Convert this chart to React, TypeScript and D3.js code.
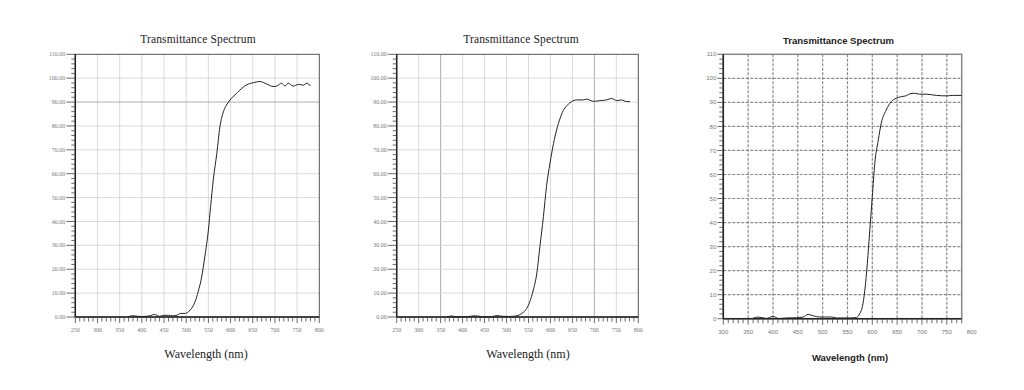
import React, { useRef, useEffect } from "react";
import * as d3 from "d3";

// panel 1 (left)
const waveA = [370, 380, 390, 400, 410, 420, 428, 435, 440, 450, 460, 470, 480, 487, 497, 505, 512, 520, 527, 535, 542, 550, 555, 561, 569, 576, 584, 591, 599, 610, 621, 636, 651, 666, 681, 696, 704, 715, 723, 730, 741, 753, 764, 772, 780];
const transA = [0.2, 0.5, 0.3, 0.2, 0.3, 0.6, 1.1, 0.6, 0.3, 0.7, 0.7, 0.5, 0.8, 1.5, 1.5, 2.2, 3.6, 6.4, 10.6, 16.9, 25.3, 36.4, 46.2, 57.4, 68.5, 79.7, 86.0, 88.8, 90.9, 93.0, 95.0, 97.2, 98.1, 98.6, 97.6, 96.5, 96.7, 97.9, 96.7, 97.9, 96.7, 97.4, 97.1, 97.9, 96.7];

// panel 2 (middle)
const waveB = [365, 375, 385, 400, 415, 425, 435, 445, 465, 478, 490, 505, 515, 523, 535, 546, 553, 561, 569, 576, 584, 591, 599, 607, 614, 622, 629, 637, 648, 660, 675, 682, 698, 713, 728, 739, 751, 762, 773, 781];
const transB = [0.1, 0.4, 0.1, 0.1, 0.2, 0.5, 0.4, 0.1, 0.1, 0.6, 0.3, 0.2, 0.3, 0.5, 1.5, 3.6, 6.4, 11.3, 18.3, 29.5, 42.0, 54.6, 64.4, 72.7, 78.3, 83.2, 86.4, 88.4, 90.2, 90.9, 90.9, 91.2, 90.3, 90.6, 90.9, 91.5, 90.6, 90.9, 90.2, 90.2];

// panel 3 (right)
const waveC = [360, 370, 387, 400, 411, 427, 447, 461, 471, 481, 494, 518, 528, 555, 568, 575, 580, 585, 590, 595, 600, 605, 612, 618, 628, 638, 648, 659, 669, 675, 685, 695, 709, 729, 749, 762, 780];
const transC = [0.2, 0.7, 0.1, 1.0, 0.1, 0.3, 0.4, 0.7, 1.8, 1.2, 0.7, 0.7, 0.3, 0.3, 0.5, 2.2, 5.0, 11.9, 23.0, 36.9, 50.8, 64.6, 74.3, 81.3, 86.8, 90.3, 91.7, 92.4, 92.8, 93.5, 93.8, 93.4, 93.4, 92.9, 92.7, 92.9, 92.9];

const xTicksAB = [250, 300, 350, 400, 450, 500, 550, 600, 650, 700, 750, 800];
const xTicksC = [300, 350, 400, 450, 500, 550, 600, 650, 700, 750, 800];
const yTicks = [0, 10, 20, 30, 40, 50, 60, 70, 80, 90, 100, 110];

const title = "Transmittance Spectrum";
const xTitle = "Wavelength (nm)";

const serif = "'Liberation Serif', serif";
const sans = "'Liberation Sans', Arial, sans-serif";

const panels = [
  {
    wave: waveA, trans: transA, xTicks: xTicksAB, xDomain: [250, 800],
    left: 75.3, right: 319.3, top: 54.3, bottom: 317,
    titleX: 198, titleY: 39, labelX: 206, labelY: 354,
    font: serif, bold: false, dashed: false, fmt: (d) => d.toFixed(2),
    darkX: [], darkY: [90],
  },
  {
    wave: waveB, trans: transB, xTicks: xTicksAB, xDomain: [250, 800],
    left: 396.7, right: 638.3, top: 54.3, bottom: 317,
    titleX: 521, titleY: 39, labelX: 528, labelY: 354,
    font: serif, bold: false, dashed: false, fmt: (d) => d.toFixed(2),
    darkX: [350, 700], darkY: [],
  },
  {
    wave: waveC, trans: transC, xTicks: xTicksC, xDomain: [300, 780],
    left: 723.3, right: 961.7, top: 54.3, bottom: 318.7,
    titleX: 838.5, titleY: 40.7, labelX: 850, labelY: 358,
    font: sans, bold: true, dashed: true, fmt: (d) => String(d),
    darkX: [], darkY: [],
  },
];

const drawPanel = (svg, p) => {
  const x = d3.scaleLinear().domain(p.xDomain).range([p.left, p.right]);
  const y = d3.scaleLinear().domain([0, 110]).range([p.bottom, p.top]);
  const g = svg.append("g");

  // grid
  const gridX = p.xTicks.filter((d) => d > p.xDomain[0] && d < p.xDomain[1]);
  const gridY = yTicks.filter((d) => d > 0 && d < 110);
  const gridColor = (dark) => (p.dashed ? "#8a8a8a" : dark ? "#999" : "#d0d0d0");
  g.selectAll(".gx")
    .data(gridX)
    .enter()
    .append("line")
    .attr("x1", (d) => x(d))
    .attr("x2", (d) => x(d))
    .attr("y1", p.top)
    .attr("y2", p.bottom)
    .attr("stroke", (d) => gridColor(p.darkX.includes(d)))
    .attr("stroke-width", p.dashed ? 1.2 : 0.8)
    .attr("stroke-dasharray", p.dashed ? "3,1.5" : null);
  g.selectAll(".gy")
    .data(gridY)
    .enter()
    .append("line")
    .attr("x1", p.left)
    .attr("x2", p.right)
    .attr("y1", (d) => y(d))
    .attr("y2", (d) => y(d))
    .attr("stroke", (d) => gridColor(p.darkY.includes(d)))
    .attr("stroke-width", p.dashed ? 1.2 : 0.8)
    .attr("stroke-dasharray", p.dashed ? "3,1.5" : null);

  // frame
  g.append("rect")
    .attr("x", p.left)
    .attr("y", p.top)
    .attr("width", p.right - p.left)
    .attr("height", p.bottom - p.top)
    .attr("fill", "none")
    .attr("stroke", p.dashed ? "#888" : "#555")
    .attr("stroke-width", p.dashed ? 1.5 : 1);
  g.append("line")
    .attr("x1", p.left).attr("x2", p.left)
    .attr("y1", p.top).attr("y2", p.bottom)
    .attr("stroke", "#222").attr("stroke-width", 1.5);
  g.append("line")
    .attr("x1", p.left).attr("x2", p.right)
    .attr("y1", p.bottom).attr("y2", p.bottom)
    .attr("stroke", "#222").attr("stroke-width", 1.5);

  // minor ticks
  const yMinor = d3.range(0, 110.1, 2);
  g.selectAll(".ym")
    .data(yMinor)
    .enter()
    .append("line")
    .attr("x1", (d) => p.left - (d % 10 === 0 ? (p.dashed ? 6 : 9) : 4))
    .attr("x2", p.left)
    .attr("y1", (d) => y(d))
    .attr("y2", (d) => y(d))
    .attr("stroke", "#444")
    .attr("stroke-width", 0.8);
  const xMinor = d3.range(p.xDomain[0], p.xDomain[1] + 0.1, 10);
  g.selectAll(".xm")
    .data(xMinor)
    .enter()
    .append("line")
    .attr("x1", (d) => x(d))
    .attr("x2", (d) => x(d))
    .attr("y1", p.bottom)
    .attr("y2", (d) => p.bottom + (d % 50 === 0 ? 6 : 4.5))
    .attr("stroke", "#444")
    .attr("stroke-width", 0.8);

  // tick labels
  g.selectAll(".yl")
    .data(yTicks)
    .enter()
    .append("text")
    .attr("x", p.left - (p.dashed ? 7 : 10))
    .attr("y", (d) => y(d))
    .attr("dy", "0.35em")
    .attr("text-anchor", "end")
    .attr("font-family", p.font)
    .attr("font-size", 6)
    .attr("fill", "#777")
    .text(p.fmt);
  g.selectAll(".xl")
    .data(p.xTicks)
    .enter()
    .append("text")
    .attr("x", (d) => x(d))
    .attr("y", p.dashed ? 331.7 : 330)
    .attr("dy", "0.35em")
    .attr("text-anchor", "middle")
    .attr("font-family", p.font)
    .attr("font-size", 6)
    .attr("fill", "#777")
    .text((d) => String(d));

  // titles
  g.append("text")
    .attr("x", p.titleX)
    .attr("y", p.titleY)
    .attr("dy", "0.35em")
    .attr("text-anchor", "middle")
    .attr("font-family", p.font)
    .attr("font-size", p.bold ? 9.5 : 11.5)
    .attr("font-weight", p.bold ? "bold" : "normal")
    .attr("letter-spacing", p.bold ? 0 : 0.15)
    .attr("fill", "#222")
    .text(title);
  g.append("text")
    .attr("x", p.labelX)
    .attr("y", p.labelY)
    .attr("dy", "0.35em")
    .attr("text-anchor", "middle")
    .attr("font-family", p.font)
    .attr("font-size", p.bold ? 9.5 : 12)
    .attr("font-weight", p.bold ? "bold" : "normal")
    .attr("fill", "#222")
    .text(xTitle);

  // curve
  const line = d3
    .line()
    .x((d) => x(d[0]))
    .y((d) => y(d[1]))
    .curve(d3.curveMonotoneX);
  g.append("path")
    .datum(p.wave.map((w, i) => [w, p.trans[i]]))
    .attr("fill", "none")
    .attr("stroke", "#222")
    .attr("stroke-width", 1)
    .attr("d", line);
};

const App = () => {
  const svgRef = useRef(null);

  useEffect(() => {
    const svg = d3.select(svgRef.current);
    svg.selectAll("*").remove();
    svg.append("rect").attr("width", 1024).attr("height", 390).attr("fill", "#fff");
    panels.forEach((p) => drawPanel(svg, p));
  }, []);

  return (
    <svg
      ref={svgRef}
      width={1024}
      height={390}
      style={{ position: "absolute", left: 0, top: 0 }}
    />
  );
};

export default App;
